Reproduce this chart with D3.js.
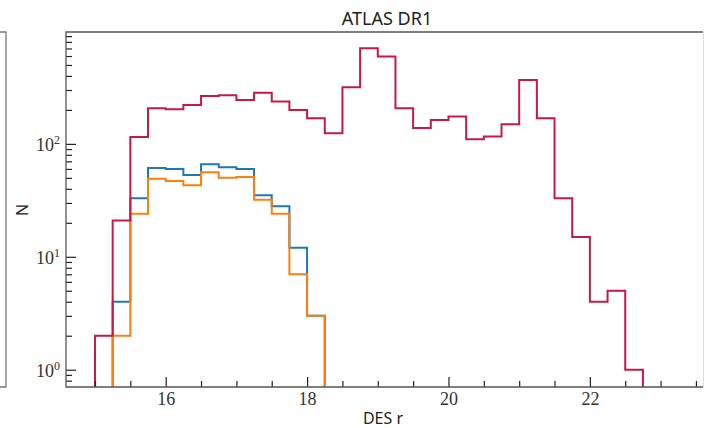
<!DOCTYPE html>
<html>
<head>
<meta charset="utf-8">
<script src="https://cdn.jsdelivr.net/npm/d3@7"></script>
<style>
  body { margin: 0; background: #fff; }
  svg { display: block; }
</style>
</head>
<body>
<div id="chart"></div>
<script>
// histogram bins are 0.25 mag wide
var binWidth = 0.25;

var redStart = 15.0;
var redCounts = [2, 21, 115, 207, 203, 221, 266, 270, 245, 284, 237, 200, 169, 124,
                 318, 702, 593, 207, 138, 163, 175, 110, 116, 149, 368, 169, 33, 15, 4, 5, 1];

var blueStart = 15.25;
var blueCounts = [4, 33, 61, 60, 53, 66, 62, 60, 35, 28, 12, 3];

var orangeStart = 15.25;
var orangeCounts = [2, 24, 49, 47, 43, 56, 50, 51, 32, 24, 7, 3];

var xMajor = [16, 18, 20, 22];
var yMajor = [1, 10, 100];

var width = 704, height = 428;
var plotLeft = 66, plotRight = 703, plotTop = 32, plotBottom = 387;

var svg = d3.select("#chart").append("svg")
    .attr("width", width)
    .attr("height", height);

var x = d3.scaleLinear().domain([14.59, 23.6]).range([plotLeft, plotRight]);
var y = d3.scaleLog().domain([0.703, 979]).range([plotBottom, plotTop]);

// clip
svg.append("clipPath").attr("id", "clip")
  .append("rect")
    .attr("x", plotLeft).attr("y", plotTop)
    .attr("width", plotRight - plotLeft).attr("height", plotBottom - plotTop);

// neighbouring panel edge on the far left
svg.append("path")
    .attr("d", "M0," + plotTop + "H6V" + plotBottom + "H0")
    .attr("fill", "none")
    .attr("stroke", "#777")
    .attr("stroke-width", 1.3);

var stepLine = d3.line()
    .x(function (d) { return x(d[0]); })
    .y(function (d) { return y(d[1]); })
    .curve(d3.curveStepAfter);

var yFloor = y.domain()[0];

var stepPoints = function (start, counts) {
    var pts = [[start, yFloor]];
    counts.forEach(function (c, i) {
        pts.push([start + i * binWidth, c]);
    });
    pts.push([start + counts.length * binWidth, yFloor]);
    return pts;
};

var series = [
    { start: blueStart, counts: blueCounts, color: "#1f77b4" },
    { start: orangeStart, counts: orangeCounts, color: "#ff7f0e" },
    { start: redStart, counts: redCounts, color: "#c8174a" }
];

var plot = svg.append("g").attr("clip-path", "url(#clip)");

series.forEach(function (s) {
    plot.append("path")
        .attr("d", stepLine(stepPoints(s.start, s.counts)))
        .attr("fill", "none")
        .attr("stroke", s.color)
        .attr("stroke-width", 2)
        .attr("stroke-linejoin", "miter");
});

// x axis: major and minor ticks pointing inward
var xMinor = d3.range(15, 23.6, 0.5).filter(function (v) { return xMajor.indexOf(v) < 0; });

svg.append("g")
    .attr("transform", "translate(0," + plotBottom + ")")
    .call(d3.axisBottom(x).tickValues(xMinor).tickSize(-6).tickFormat(""))
    .call(function (g) { g.select(".domain").remove(); });

var xAxis = svg.append("g")
    .attr("transform", "translate(0," + plotBottom + ")")
    .call(d3.axisBottom(x).tickValues(xMajor).tickSize(-10).tickPadding(5).tickFormat(d3.format("d")));
xAxis.select(".domain").remove();
xAxis.selectAll("text")
    .attr("font-family", "'Liberation Serif', serif")
    .attr("font-size", 18)
    .attr("fill", "#333");

// y axis
var yMinor = y.ticks().filter(function (v) { return yMajor.indexOf(v) < 0; });

svg.append("g")
    .attr("transform", "translate(" + plotLeft + ",0)")
    .call(d3.axisLeft(y).tickValues(yMinor).tickSize(-6).tickFormat(""))
    .call(function (g) { g.select(".domain").remove(); });

var yAxis = svg.append("g")
    .attr("transform", "translate(" + plotLeft + ",0)")
    .call(d3.axisLeft(y).tickValues(yMajor).tickSize(-10).tickFormat(""));
yAxis.select(".domain").remove();

yMajor.forEach(function (v) {
    var t = svg.append("text")
        .attr("x", plotLeft - 6)
        .attr("y", y(v) + 7)
        .attr("text-anchor", "end")
        .attr("font-family", "'Liberation Serif', serif")
        .attr("fill", "#333");
    t.append("tspan").attr("font-size", 18).text("10");
    t.append("tspan").attr("font-size", 12).attr("dy", -7).text(Math.round(Math.log10(v)));
});

// frame
svg.append("path")
    .attr("d", "M" + plotRight + "," + plotTop + "H" + plotLeft + "V" + plotBottom + "H" + plotRight)
    .attr("fill", "none")
    .attr("stroke", "#555")
    .attr("stroke-width", 1.3);
svg.append("line")
    .attr("x1", plotRight + 0.5).attr("x2", plotRight + 0.5)
    .attr("y1", plotTop).attr("y2", plotBottom)
    .attr("stroke", "#ddd")
    .attr("stroke-width", 1);

svg.selectAll(".tick line").attr("stroke", "#222").attr("stroke-width", 1.2);

// labels
svg.append("text")
    .attr("x", 387).attr("y", 25)
    .attr("text-anchor", "middle")
    .attr("font-family", "'Noto Sans', sans-serif")
    .attr("font-size", 18)
    .attr("fill", "#222")
    .text("ATLAS DR1");

svg.append("text")
    .attr("x", 383).attr("y", 424)
    .attr("text-anchor", "middle")
    .attr("font-family", "'Noto Sans', sans-serif")
    .attr("font-size", 16)
    .attr("fill", "#222")
    .text("DES r");

svg.append("text")
    .attr("transform", "translate(28,210) rotate(-90)")
    .attr("text-anchor", "middle")
    .attr("font-family", "'Noto Sans', sans-serif")
    .attr("font-size", 16)
    .attr("fill", "#222")
    .text("N");
</script>
</body>
</html>
